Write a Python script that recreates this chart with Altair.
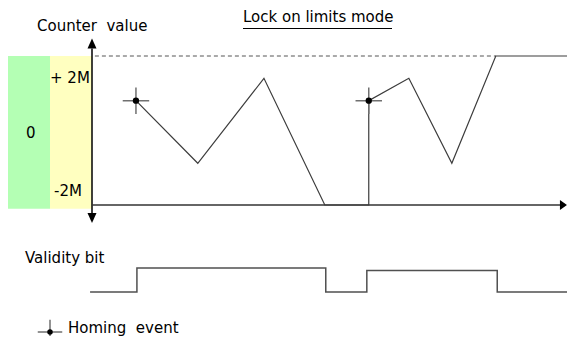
import altair as alt
import pandas as pd

# ---- data (time in arbitrary units 0..100, counter in units 0..10 where 10 = upper limit) ----
trace_t = [9.1, 21.9, 35.6, 48.2, 57.3, 57.3, 65.6, 74.5, 83.6, 100.0]
trace_v = [7.0, 2.8, 8.5, 0.0, 0.0, 7.0, 8.5, 2.8, 10.0, 10.0]
homing_t = [9.1, 57.3]
homing_v = [7.0, 7.0]
valid_t = [-0.4, 9.3, 48.4, 56.9, 83.9, 100.0]
valid_bit = [0.0, 1.0, 0.0, 0.9, 0.0, 0.0]
limit_value = 10.0
limit_start_t = 0.6
limit_end_t = 83.6
zone_labels = ["+ 2M", "0", "-2M"]
title_text = "Lock on limits mode"
y_title = "Counter\u00a0 value"
bit_title = "Validity bit"
legend_text = "Homing\u00a0 event"

FONT = "DejaVu Sans"
FS = 15

X = alt.Scale(domain=[0, 100], range=[84, 567], nice=False, zero=False)
YC = alt.Scale(domain=[0, 10], range=[197, 48], nice=False, zero=False)
YV = alt.Scale(domain=[0, 1], range=[284, 260], nice=False, zero=False)

trace_df = pd.DataFrame({"t": trace_t, "v": trace_v, "i": list(range(len(trace_t)))})
homing_df = pd.DataFrame({"t": homing_t, "v": homing_v})
valid_df = pd.DataFrame({"t": valid_t, "b": valid_bit})
one = alt.Data(values=[{}])

layers = []

# colored zones
zone_df = pd.DataFrame({"top": [10.0], "bot": [-0.25]})
for x0, x1, col in [(0, 42, "#b4ffb4"), (42, 84, "#ffffc0")]:
    layers.append(
        alt.Chart(zone_df).mark_rect(fill=col, stroke=None).encode(
            x=alt.value(x0), x2=alt.value(x1),
            y=alt.Y("top:Q", scale=YC, axis=None), y2="bot:Q",
        )
    )

# zone labels
for lab, (lx, ly) in zip(zone_labels, [(42, 75), (18, 130), (46, 188)]):
    layers.append(
        alt.Chart(one).mark_text(text=lab, font=FONT, fontSize=FS, align="left",
                                 baseline="alphabetic", color="black")
        .encode(x=alt.value(lx), y=alt.value(ly))
    )

# dashed limit line
lim_df = pd.DataFrame({"t0": [limit_start_t], "t1": [limit_end_t], "v": [limit_value]})
layers.append(
    alt.Chart(lim_df).mark_rule(color="#555555", strokeWidth=1, strokeDash=[4, 3]).encode(
        x=alt.X("t0:Q", scale=X, axis=None), x2="t1:Q", y=alt.Y("v:Q", scale=YC, axis=None)
    )
)

# axes
yaxis_df = pd.DataFrame({"t": [0.0], "v0": [-0.55], "v1": [10.5]})
layers.append(
    alt.Chart(yaxis_df).mark_rule(color="black", strokeWidth=1.5).encode(
        x=alt.X("t:Q", scale=X, axis=None), y=alt.Y("v0:Q", scale=YC, axis=None), y2="v1:Q"
    )
)
xaxis_df = pd.DataFrame({"t0": [0.0], "t1": [97.3], "v": [0.0]})
layers.append(
    alt.Chart(xaxis_df).mark_rule(color="#333333", strokeWidth=1.5).encode(
        x=alt.X("t0:Q", scale=X, axis=None), x2="t1:Q", y=alt.Y("v:Q", scale=YC, axis=None)
    )
)
# arrow heads
for shape, t, v in [("M0,-1L-0.9,1L0.9,1Z", 0.0, 10.84),
                    ("M0,1L-0.9,-1L0.9,-1Z", 0.0, -0.87),
                    ("M1,0L-0.4,-1L-0.4,1Z", 97.3, 0.0)]:
    adf = pd.DataFrame({"t": [t], "v": [v]})
    layers.append(
        alt.Chart(adf).mark_point(shape=shape, filled=True, color="black", size=100, opacity=1).encode(
            x=alt.X("t:Q", scale=X, axis=None), y=alt.Y("v:Q", scale=YC, axis=None)
        )
    )

# counter trace
layers.append(
    alt.Chart(trace_df).mark_line(color="#3c3c3c", strokeWidth=1.2).encode(
        x=alt.X("t:Q", scale=X, axis=None), y=alt.Y("v:Q", scale=YC, axis=None), order="i:Q"
    )
)

# homing markers
CROSS = "M-1,0L1,0M0,-1L0,1"
layers.append(
    alt.Chart(homing_df).mark_point(shape=CROSS, filled=False, color="#707070", strokeWidth=1.5,
                                    size=700, opacity=1).encode(
        x=alt.X("t:Q", scale=X, axis=None), y=alt.Y("v:Q", scale=YC, axis=None)
    )
)
layers.append(
    alt.Chart(homing_df).mark_point(shape="circle", filled=True, color="black", size=40, opacity=1).encode(
        x=alt.X("t:Q", scale=X, axis=None), y=alt.Y("v:Q", scale=YC, axis=None)
    )
)

# validity bit
layers.append(
    alt.Chart(valid_df).mark_line(color="#505050", strokeWidth=1.5, interpolate="step-after").encode(
        x=alt.X("t:Q", scale=X, axis=None), y=alt.Y("b:Q", scale=YV, axis=None)
    )
)

# legend
layers.append(
    alt.Chart(one).mark_point(shape=CROSS, filled=False, color="#707070", strokeWidth=1.5,
                              size=600, opacity=1).encode(x=alt.value(42), y=alt.value(324))
)
layers.append(
    alt.Chart(one).mark_point(shape="circle", filled=True, color="black", size=30, opacity=1)
    .encode(x=alt.value(42), y=alt.value(324))
)

# texts
for txt, tx, ty in [(y_title, 29, 23), (title_text, 235, 14), (bit_title, 17, 255), (legend_text, 60, 325)]:
    layers.append(
        alt.Chart(one).mark_text(text=txt, font=FONT, fontSize=FS, align="left",
                                 baseline="alphabetic", color="black")
        .encode(x=alt.value(tx), y=alt.value(ty))
    )
# title underline
layers.append(
    alt.Chart(one).mark_rule(color="black", strokeWidth=1).encode(
        x=alt.value(235), x2=alt.value(384), y=alt.value(20.5)
    )
)

chart = (
    alt.layer(*layers)
    .resolve_scale(y="independent")
    .properties(width=559, height=328, autosize=alt.AutoSizeParams(type="none"), padding=0)
    .configure_view(stroke=None)
)

chart.save("out.html", embed_options={"renderer": "svg", "actions": False})
